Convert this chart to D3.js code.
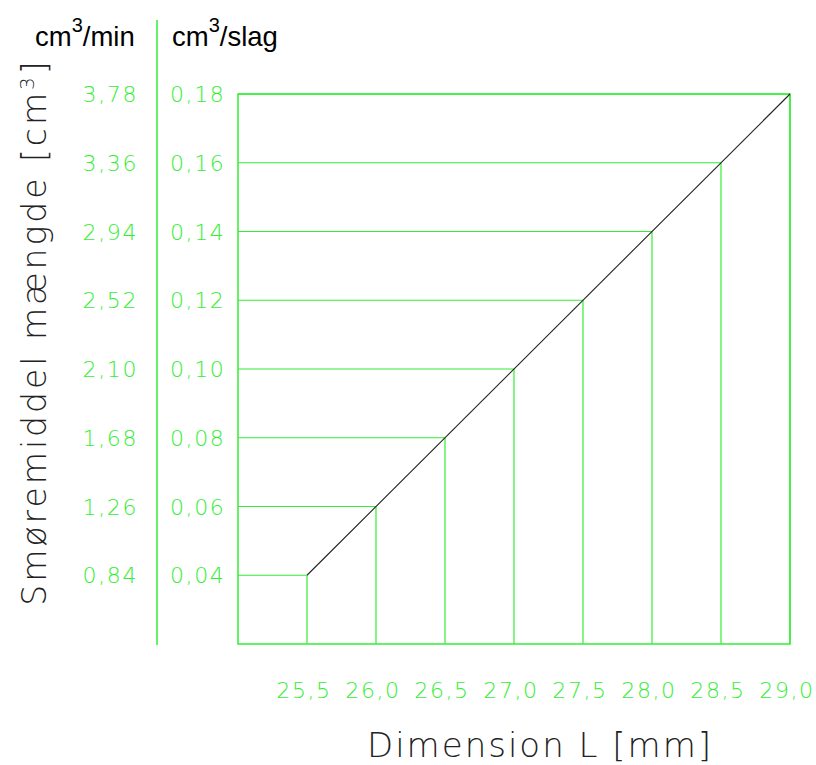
<!DOCTYPE html>
<html>
<head>
<meta charset="utf-8">
<script src="https://cdn.jsdelivr.net/npm/d3@7"></script>
<style>
  body { margin: 0; background: #fff; }
  svg text { font-family: "DejaVu Sans", sans-serif; }
</style>
</head>
<body>
<script>
// dimension L [mm] at each step
var dims = [25.5, 26.0, 26.5, 27.0, 27.5, 28.0, 28.5, 29.0];
// cm3 per stroke
var perStroke = [0.04, 0.06, 0.08, 0.10, 0.12, 0.14, 0.16, 0.18];
// cm3 per minute
var perMin = [0.84, 1.26, 1.68, 2.10, 2.52, 2.94, 3.36, 3.78];

var green = '#33ee33';
var fmt = function(v, n){ return v.toFixed(n).replace('.', ','); };

var svg = d3.select('body').append('svg')
  .attr('width', 816)
  .attr('height', 765);

var x = d3.scaleLinear().domain([25, 29]).range([238, 790]);
var y = d3.scaleLinear().domain([0.02, 0.18]).range([644, 94]);

var pts = dims.map(function(d, i){ return {x: d, y: perStroke[i], m: perMin[i]}; });

// frame
svg.append('rect')
  .attr('x', x(25)).attr('y', y(0.18))
  .attr('width', x(29) - x(25)).attr('height', y(0.02) - y(0.18))
  .attr('fill', 'none').attr('stroke', green).attr('stroke-width', 1.5);

// horizontal guides
svg.selectAll('line.h').data(pts).enter().append('line')
  .attr('class', 'h')
  .attr('x1', x(25)).attr('x2', function(d){ return x(d.x); })
  .attr('y1', function(d){ return y(d.y); }).attr('y2', function(d){ return y(d.y); })
  .attr('stroke', green).attr('stroke-width', 1.2);

// vertical guides
svg.selectAll('line.v').data(pts).enter().append('line')
  .attr('class', 'v')
  .attr('x1', function(d){ return x(d.x); }).attr('x2', function(d){ return x(d.x); })
  .attr('y1', y(0.02)).attr('y2', function(d){ return y(d.y); })
  .attr('stroke', green).attr('stroke-width', 1.2);

// diagonal
svg.append('line')
  .attr('x1', x(dims[0])).attr('y1', y(perStroke[0]))
  .attr('x2', x(dims[dims.length - 1])).attr('y2', y(perStroke[perStroke.length - 1]))
  .attr('stroke', '#222').attr('stroke-width', 1.1);

// separator between unit columns
svg.append('line')
  .attr('x1', 157).attr('x2', 157).attr('y1', 20).attr('y2', 645)
  .attr('stroke', green).attr('stroke-width', 1.5);

// headers
svg.append('text').attr('x', 35).attr('y', 46).attr('font-size', 27.5)
  .style('font-family', '"Liberation Sans", Arial, sans-serif')
  .html('cm<tspan dy="-14" font-size="20">3</tspan><tspan dy="14">/min</tspan>');
svg.append('text').attr('x', 172).attr('y', 46).attr('font-size', 27.5)
  .style('font-family', '"Liberation Sans", Arial, sans-serif')
  .html('cm<tspan dy="-14" font-size="20">3</tspan><tspan dy="14">/slag</tspan>');

// y labels
svg.selectAll('text.lm').data(pts).enter().append('text')
  .attr('class', 'lm')
  .attr('x', 138).attr('y', function(d){ return y(d.y) + 8; })
  .attr('text-anchor', 'end').attr('font-size', 22).attr('font-weight', 200)
  .attr('letter-spacing', 1.6)
  .attr('fill', green)
  .text(function(d){ return fmt(d.m, 2); });

svg.selectAll('text.ls').data(pts).enter().append('text')
  .attr('class', 'ls')
  .attr('x', 170).attr('y', function(d){ return y(d.y) + 8; })
  .attr('font-size', 22).attr('font-weight', 200)
  .attr('letter-spacing', 1.6)
  .attr('fill', green)
  .text(function(d){ return fmt(d.y, 2); });

// x labels
svg.selectAll('text.lx').data(pts).enter().append('text')
  .attr('class', 'lx')
  .attr('x', function(d){ return x(d.x) - 3; }).attr('y', 698)
  .attr('text-anchor', 'middle').attr('font-size', 22).attr('font-weight', 200)
  .attr('letter-spacing', 1.6)
  .attr('fill', green)
  .text(function(d){ return fmt(d.x, 1); });

// axis titles
svg.append('text')
  .attr('x', 540).attr('y', 757)
  .attr('text-anchor', 'middle').attr('font-size', 34).attr('font-weight', 200)
  .attr('fill', '#222').attr('letter-spacing', 2)
  .text('Dimension L [mm]');

svg.append('text')
  .attr('transform', 'translate(46,332) rotate(-90)')
  .attr('text-anchor', 'middle').attr('font-size', 33).attr('font-weight', 200)
  .attr('fill', '#222').attr('letter-spacing', 3)
  .html('Smøremiddel mængde [cm<tspan dy="-12" font-size="20">3</tspan><tspan dy="12">]</tspan>');
</script>
</body>
</html>
